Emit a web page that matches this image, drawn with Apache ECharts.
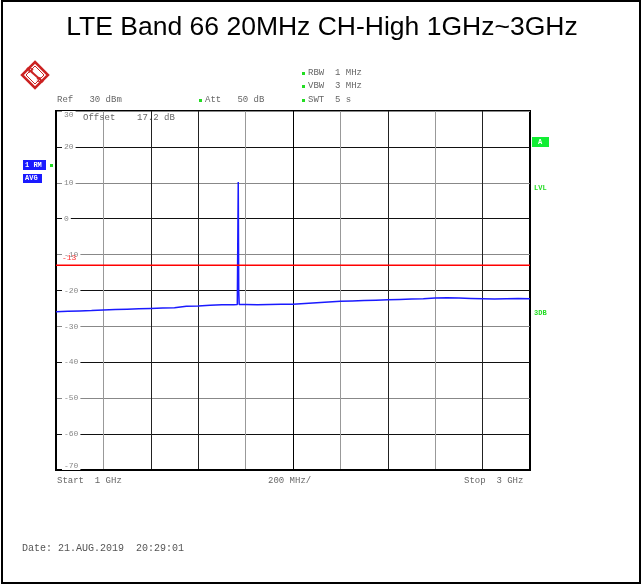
<!DOCTYPE html>
<html><head><meta charset="utf-8">
<script src="https://cdn.jsdelivr.net/npm/echarts@6/dist/echarts.min.js"></script>
<style>html,body{margin:0;padding:0;background:#fff}#c{width:642px;height:585px}</style>
</head><body><div id="c"></div>
<script>
// ---- data ----
const freqMHz = [1000,1050,1100,1150,1200,1250,1300,1350,1400,1450,1500,1550,1600,1650,1700,1750,1765,1768,1769,1771,1773,1800,1850,1900,1950,2000,2050,2100,2150,2200,2250,2300,2350,2400,2450,2500,2550,2600,2650,2700,2750,2800,2850,2900,2950,3000];
const levelDbm = [-25.9,-25.8,-25.7,-25.6,-25.4,-25.3,-25.2,-25.1,-25.0,-24.9,-24.8,-24.4,-24.3,-24.1,-24.0,-24.0,-23.9,-23.8,10.2,-20.0,-23.9,-23.9,-24.0,-23.9,-23.8,-23.8,-23.6,-23.4,-23.2,-23.0,-22.9,-22.8,-22.7,-22.6,-22.5,-22.4,-22.3,-22.1,-22.0,-22.1,-22.2,-22.3,-22.4,-22.3,-22.2,-22.3];
const limitDbm = -13;
const yTicks = [-70,-60,-50,-40,-30,-20,-10,0,10,20,30];
const xMin = 1000, xMax = 3000, xStep = 200;
const title = 'LTE Band 66 20MHz CH-High 1GHz~3GHz';

const chart = echarts.init(document.getElementById('c'), null, {renderer:'canvas'});
const mono = '"Liberation Mono","DejaVu Sans Mono",monospace';
const gTxt = (x,y,text,opt={}) => ({type:'text', silent:true, style:Object.assign({x, y, text, font:(opt.size||9)+'px '+mono, fill:opt.fill||'#666', align:opt.align||'left', verticalAlign:'middle'}, opt.style||{}), z:opt.z||10});
const dot = (x,y) => ({type:'rect', shape:{x:x-1,y:y-1,width:3,height:3}, style:{fill:'#22dd22'}, z:10});

const graphics = [
  {type:'rect', shape:{x:2,y:1,width:638,height:582}, style:{fill:'none', stroke:'#000', lineWidth:2}, z:0},
  {type:'text', style:{x:322,y:28,text:title,font:'26.5px "Liberation Sans",Arial,sans-serif',fill:'#000',align:'center',verticalAlign:'middle'}, z:10},
  // R&S logo
  {type:'polygon', shape:{points:[[35,62],[48,75],[35,88],[22,75]]}, style:{fill:'#fff',stroke:'#cc2222',lineWidth:2.5}, z:10},
  {type:'polygon', shape:{points:[[35,66],[44,75],[35,84],[26,75]]}, style:{fill:'none',stroke:'#cc2222',lineWidth:1}, z:10},
  {type:'line', shape:{x1:27,y1:68,x2:43,y2:82}, style:{stroke:'#cc2222',lineWidth:2}, z:11},
  {type:'text', style:{x:31,y:71,text:'R',font:'bold 8px "Liberation Sans",sans-serif',fill:'#cc2222',align:'center',verticalAlign:'middle'}, z:12},
  {type:'text', style:{x:39,y:80,text:'S',font:'bold 8px "Liberation Sans",sans-serif',fill:'#cc2222',align:'center',verticalAlign:'middle'}, z:12},
  // header
  gTxt(57,100,'Ref   30 dBm'),
  dot(200,100), gTxt(205,100,'Att   50 dB'),
  dot(303,73), gTxt(308,73,'RBW  1 MHz'),
  dot(303,86), gTxt(308,86,'VBW  3 MHz'),
  dot(303,100), gTxt(308,100,'SWT  5 s'),
  gTxt(83,118,'Offset    17.2 dB', {z:20}),
  // left markers
  {type:'rect', shape:{x:23,y:160,width:23,height:10}, style:{fill:'#1a1aff'}, z:10},
  gTxt(25,165,'1 RM',{fill:'#fff',size:7,style:{font:'bold 7px '+mono}}),
  {type:'rect', shape:{x:23,y:174,width:19,height:9}, style:{fill:'#1a1aff'}, z:10},
  gTxt(25,178.5,'AVG',{fill:'#fff',size:7,style:{font:'bold 7px '+mono}}),
  dot(51,165),
  // right markers
  {type:'rect', shape:{x:532,y:137,width:17,height:10}, style:{fill:'#11ee33'}, z:10},
  gTxt(540,142,'A',{fill:'#fff',size:7,align:'center',style:{font:'bold 7px '+mono}}),
  gTxt(534,188,'LVL',{fill:'#22dd22',size:7,style:{font:'bold 7px '+mono}}),
  gTxt(534,313,'3DB',{fill:'#22dd22',size:7,style:{font:'bold 7px '+mono}}),
  // footer
  gTxt(57,481,'Start  1 GHz'),
  gTxt(268,481,'200 MHz/'),
  gTxt(464,481,'Stop  3 GHz'),
  gTxt(22,548,'Date: 21.AUG.2019  20:29:01',{size:10,fill:'#555'}),
  gTxt(62,258,String(limitDbm),{size:8,fill:'#ff3333',z:20})
];

chart.setOption({
  animation:false,
  backgroundColor:'#fff',
  grid:{left:56, right:112, top:111, bottom:115, show:true, borderColor:'#000', borderWidth:2, backgroundColor:'transparent'},
  xAxis:{type:'value', min:xMin, max:xMax, interval:xStep,
    axisLine:{show:true, onZero:false, lineStyle:{color:'#000', width:2}}, axisTick:{show:false}, axisLabel:{show:false},
    splitLine:{show:true, lineStyle:{width:1, color:['#000','#999','#222','#222','#999','#000','#999','#222','#999','#222','#000']}}},
  yAxis:{type:'value', min:yTicks[0], max:yTicks[yTicks.length-1], interval:10,
    axisLine:{show:true, onZero:false, lineStyle:{color:'#000', width:2}}, axisTick:{show:false},
    axisLabel:{inside:true, margin:6, color:'#888', fontSize:8, fontFamily:mono, backgroundColor:'#fff', padding:[0,2],
      verticalAlignMaxLabel:'top', verticalAlignMinLabel:'bottom'},
    splitLine:{show:true, lineStyle:{width:1, color:['#888','#111']}}},
  series:[
    {type:'line', name:'limit', data:[[xMin,limitDbm],[xMax,limitDbm]], showSymbol:false, symbol:'none',
      lineStyle:{color:'#ff0000', width:1.5, opacity:1}, z:6, silent:true},
    {type:'line', name:'trace', data:freqMHz.map((f,i)=>[f,levelDbm[i]]), showSymbol:false, symbol:'none',
      lineStyle:{color:'#1a1aff', width:1.5}, z:5}
  ],
  graphic:graphics
});
</script></body></html>
